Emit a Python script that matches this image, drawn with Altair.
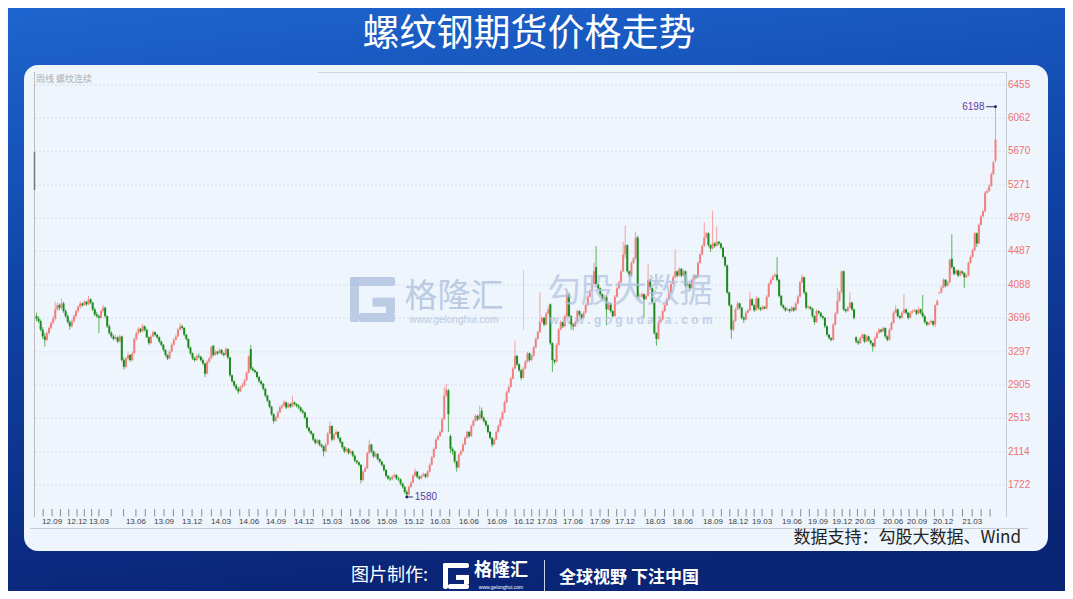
import altair as alt
import pandas as pd

# ---------------- data (weekly candles: open, high, low, close) ----------------
candles_2012_2014 = [
    (3720, 3760, 3660, 3690), (3690, 3720, 3640, 3660), (3660, 3680, 3540, 3560), (3560, 3590, 3450, 3480),
    (3480, 3520, 3360, 3440), (3440, 3540, 3420, 3520), (3520, 3600, 3500, 3580), (3580, 3660, 3560, 3640),
    (3640, 3720, 3620, 3690), (3690, 3890, 3670, 3800), (3800, 3880, 3780, 3850), (3850, 3870, 3790, 3820),
    (3820, 3930, 3800, 3870), (3870, 3890, 3760, 3780), (3780, 3800, 3700, 3720), (3720, 3740, 3630, 3650),
    (3650, 3670, 3560, 3600), (3600, 3680, 3580, 3660), (3660, 3740, 3640, 3720), (3720, 3800, 3700, 3780),
    (3780, 3850, 3760, 3830), (3830, 3890, 3810, 3870), (3870, 3880, 3830, 3850), (3850, 3910, 3840, 3890),
    (3890, 3900, 3840, 3860), (3860, 3960, 3850, 3920), (3920, 3930, 3860, 3880), (3880, 3890, 3780, 3800),
    (3800, 3820, 3720, 3740), (3740, 3770, 3700, 3720), (3720, 3740, 3520, 3700), (3700, 3800, 3690, 3780),
    (3780, 3850, 3760, 3820), (3820, 3830, 3700, 3720), (3720, 3730, 3580, 3600), (3600, 3620, 3500, 3520),
    (3520, 3540, 3460, 3480), (3480, 3500, 3430, 3450), (3450, 3500, 3440, 3470), (3470, 3480, 3400, 3420),
    (3420, 3500, 3410, 3480), (3480, 3490, 3180, 3200), (3200, 3230, 3090, 3120), (3120, 3240, 3100, 3220),
    (3220, 3290, 3200, 3260), (3260, 3270, 3180, 3200), (3200, 3300, 3180, 3280), (3280, 3470, 3270, 3450),
    (3450, 3540, 3430, 3520), (3520, 3590, 3500, 3570), (3570, 3580, 3520, 3540), (3540, 3630, 3530, 3600),
    (3600, 3610, 3540, 3560), (3560, 3570, 3460, 3470), (3470, 3480, 3380, 3400), (3400, 3500, 3390, 3480),
    (3480, 3550, 3470, 3530), (3530, 3540, 3480, 3500), (3500, 3510, 3450, 3470), (3470, 3480, 3400, 3420),
    (3420, 3430, 3360, 3380), (3380, 3390, 3300, 3320), (3320, 3330, 3240, 3260), (3260, 3270, 3200, 3220),
    (3220, 3320, 3210, 3300), (3300, 3400, 3290, 3380), (3380, 3460, 3370, 3440), (3440, 3500, 3430, 3480),
    (3480, 3580, 3470, 3560), (3560, 3640, 3550, 3600), (3600, 3620, 3560, 3580), (3580, 3590, 3480, 3500),
    (3500, 3510, 3430, 3450), (3450, 3460, 3330, 3350), (3350, 3360, 3260, 3280), (3280, 3290, 3200, 3220),
    (3220, 3240, 3180, 3200), (3200, 3270, 3190, 3250), (3250, 3280, 3220, 3240), (3240, 3250, 3180, 3200),
    (3200, 3220, 3140, 3160), (3160, 3170, 3000, 3040), (3040, 3200, 3030, 3180), (3180, 3240, 3160, 3220),
    (3220, 3370, 3210, 3350), (3370, 3380, 3240, 3260), (3260, 3320, 3250, 3300), (3300, 3310, 3260, 3280),
    (3280, 3340, 3270, 3320), (3320, 3330, 3260, 3280), (3280, 3290, 3240, 3260), (3260, 3350, 3250, 3330),
    (3330, 3340, 3210, 3230), (3230, 3240, 3000, 3020), (3020, 3030, 2930, 2950), (2950, 2960, 2880, 2900),
    (2900, 2920, 2840, 2860), (2860, 2880, 2800, 2830), (2830, 2900, 2820, 2880), (2880, 2930, 2870, 2900),
    (2900, 2980, 2890, 2960), (2960, 3070, 2950, 3050), (3050, 3260, 3040, 3240), (3330, 3380, 3080, 3100),
    (3100, 3120, 3060, 3080), (3080, 3090, 3040, 3060), (3060, 3070, 2980, 3000), (3000, 3010, 2930, 2950),
]
candles_2014_2016 = [
    (2950, 2960, 2900, 2920), (2920, 2930, 2840, 2860), (2860, 2870, 2760, 2780), (2780, 2790, 2700, 2720),
    (2720, 2730, 2630, 2650), (2650, 2660, 2540, 2560), (2560, 2570, 2450, 2480), (2480, 2540, 2470, 2520),
    (2520, 2600, 2510, 2580), (2580, 2660, 2570, 2640), (2640, 2680, 2620, 2660), (2660, 2730, 2650, 2700),
    (2700, 2710, 2620, 2640), (2640, 2700, 2630, 2680), (2680, 2690, 2630, 2650), (2650, 2780, 2640, 2700),
    (2700, 2710, 2660, 2680), (2680, 2690, 2640, 2660), (2660, 2680, 2620, 2640), (2640, 2650, 2580, 2600),
    (2600, 2620, 2560, 2580), (2580, 2590, 2500, 2520), (2520, 2530, 2380, 2400), (2400, 2410, 2340, 2360),
    (2360, 2370, 2310, 2330), (2330, 2340, 2240, 2260), (2260, 2270, 2200, 2220), (2220, 2270, 2210, 2250),
    (2250, 2260, 2180, 2200), (2200, 2210, 2160, 2180), (2180, 2190, 2060, 2120), (2120, 2220, 2110, 2200),
    (2200, 2350, 2190, 2330), (2330, 2470, 2320, 2420), (2420, 2430, 2240, 2260), (2260, 2340, 2250, 2320),
    (2320, 2380, 2310, 2350), (2350, 2360, 2260, 2280), (2280, 2290, 2210, 2230), (2230, 2240, 2150, 2170),
    (2170, 2180, 2100, 2120), (2120, 2170, 2110, 2150), (2150, 2160, 2080, 2100), (2100, 2140, 2090, 2120),
    (2120, 2130, 2050, 2070), (2070, 2080, 1990, 2010), (2010, 2020, 1970, 1990), (1990, 2000, 1940, 1960),
    (1960, 1970, 1740, 1780), (1780, 1900, 1770, 1880), (1880, 1940, 1870, 1920), (1920, 2120, 1910, 2100),
    (2100, 2260, 2090, 2200), (2200, 2210, 2100, 2120), (2120, 2130, 2040, 2060), (2060, 2110, 2050, 2090),
    (2090, 2100, 2010, 2030), (2030, 2040, 1980, 2000), (2000, 2010, 1940, 1960), (1960, 1970, 1880, 1900),
    (1900, 1910, 1810, 1830), (1830, 1840, 1780, 1800), (1800, 1820, 1770, 1790), (1790, 1840, 1780, 1820),
    (1820, 1860, 1810, 1840), (1840, 1850, 1780, 1800), (1800, 1820, 1770, 1790), (1790, 1800, 1720, 1740),
    (1740, 1750, 1680, 1700), (1700, 1710, 1620, 1640), (1640, 1660, 1580, 1610), (1610, 1720, 1600, 1700),
    (1700, 1770, 1690, 1750), (1750, 1850, 1740, 1830), (1830, 1920, 1820, 1880), (1880, 1890, 1800, 1820),
    (1820, 1830, 1780, 1800), (1800, 1850, 1790, 1830), (1830, 1870, 1820, 1850), (1850, 1860, 1800, 1820),
    (1820, 1900, 1810, 1880), (1880, 1980, 1870, 1960), (1960, 2070, 1950, 2050), (2050, 2170, 2040, 2150),
    (2150, 2280, 2140, 2260), (2260, 2320, 2250, 2300), (2300, 2370, 2290, 2350), (2350, 2520, 2340, 2500),
    (2500, 2880, 2490, 2780), (2780, 2917, 2760, 2850), (2840, 2860, 2350, 2560), (2300, 2320, 2100, 2150),
    (2150, 2170, 2080, 2120), (2120, 2130, 1980, 2000), (2000, 2010, 1880, 1930), (1930, 2100, 1920, 2080),
    (2080, 2140, 2070, 2120), (2120, 2220, 2110, 2200), (2200, 2300, 2190, 2280), (2280, 2370, 2270, 2350),
    (2350, 2360, 2280, 2300), (2300, 2440, 2290, 2420), (2420, 2500, 2410, 2480), (2480, 2560, 2470, 2540),
    (2540, 2550, 2480, 2500), (2500, 2660, 2490, 2560),
]
candles_2016_2019 = [
    (2600, 2640, 2500, 2520), (2520, 2530, 2460, 2480), (2480, 2490, 2410, 2430), (2430, 2440, 2330, 2350),
    (2350, 2360, 2260, 2280), (2280, 2290, 2170, 2200), (2200, 2280, 2190, 2260), (2260, 2370, 2250, 2350),
    (2350, 2440, 2340, 2420), (2420, 2520, 2410, 2500), (2500, 2600, 2490, 2580), (2580, 2720, 2570, 2700),
    (2700, 2840, 2690, 2820), (2820, 2900, 2810, 2880), (2880, 3000, 2870, 2980), (2980, 3120, 2970, 3100),
    (3100, 3430, 3090, 3250), (3250, 3260, 3130, 3150), (3150, 3160, 3060, 3080), (3080, 3090, 2960, 2990),
    (2990, 3120, 2980, 3100), (3100, 3200, 3090, 3180), (3180, 3300, 3170, 3280), (3280, 3290, 3180, 3200),
    (3200, 3270, 3190, 3250), (3250, 3370, 3240, 3350), (3350, 3470, 3340, 3450), (3450, 3550, 3440, 3530),
    (3530, 4000, 3520, 3650), (3650, 3720, 3640, 3700), (3700, 3710, 3600, 3620), (3620, 3770, 3610, 3750),
    (3750, 3840, 3740, 3800), (3860, 3870, 3380, 3400), (3400, 3410, 3060, 3200), (3200, 3210, 3150, 3180),
    (3180, 3400, 3170, 3380), (3380, 3580, 3370, 3560), (3560, 3670, 3550, 3650), (3650, 3660, 3580, 3600),
    (3600, 3740, 3590, 3720), (3720, 4020, 3700, 3980), (3980, 3990, 3700, 3720), (3720, 3730, 3560, 3620),
    (3620, 3640, 3550, 3600), (3600, 3670, 3590, 3650), (3650, 3800, 3640, 3780), (3780, 3790, 3720, 3740),
    (3740, 3750, 3680, 3700), (3700, 3780, 3690, 3760), (3760, 3870, 3750, 3850), (3850, 3970, 3840, 3950),
    (3950, 4040, 3940, 4020), (4020, 4200, 4010, 4100), (4100, 4350, 4090, 4250), (4300, 4550, 4080, 4100),
    (4100, 4110, 4030, 4050), (4050, 4060, 3960, 3980), (3980, 3990, 3900, 3920), (3920, 3970, 3910, 3950),
    (3950, 3960, 3610, 3800), (3800, 3890, 3790, 3870), (3870, 3880, 3760, 3780), (3780, 3790, 3700, 3720),
    (3720, 3970, 3710, 3950), (3950, 4070, 3940, 4050), (4050, 4140, 4040, 4120), (4120, 4270, 4110, 4250),
    (4250, 4600, 4240, 4450), (4450, 4790, 4400, 4560), (4560, 4570, 4230, 4250), (4250, 4260, 4180, 4200),
    (4200, 4370, 4190, 4350), (4350, 4420, 4340, 4400), (4400, 4720, 4390, 4650), (4650, 4670, 3930, 3950),
    (3950, 3990, 3900, 3950), (3950, 4000, 3940, 3980), (3980, 3990, 3700, 3920), (3920, 3980, 3910, 3960),
    (3960, 4330, 3950, 4150), (4150, 4160, 4030, 4050), (4050, 4060, 3860, 3880), (3880, 3890, 3500, 3520),
    (3520, 3530, 3370, 3450), (3450, 3670, 3440, 3650), (3650, 3700, 3640, 3680), (3680, 3800, 3670, 3780),
    (3780, 3870, 3770, 3850), (3850, 3940, 3840, 3920), (3920, 4020, 3910, 4000), (4000, 4120, 3990, 4100),
    (4100, 4200, 4090, 4180), (4180, 4510, 4170, 4250), (4250, 4260, 4180, 4200), (4200, 4300, 4190, 4280),
    (4280, 4290, 4180, 4200), (4200, 4270, 4190, 4250), (4250, 4260, 4060, 4080), (4080, 4120, 4070, 4100),
    (4100, 4110, 4030, 4050), (4050, 4170, 4040, 4150), (4150, 4220, 4140, 4200), (4200, 4210, 4160, 4180),
    (4180, 4370, 4170, 4350), (4350, 4470, 4340, 4450), (4450, 4570, 4440, 4550), (4550, 4830, 4540, 4650),
    (4650, 4720, 4640, 4700), (4700, 4710, 4540, 4560), (4560, 4570, 4480, 4520), (4520, 4965, 4510, 4580),
    (4580, 4600, 4530, 4550), (4550, 4780, 4540, 4600), (4600, 4610, 4560, 4580), (4580, 4590, 4510, 4530),
    (4530, 4540, 4400, 4420), (4420, 4430, 4300, 4320), (4320, 4330, 3980, 4000), (4000, 4010, 3830, 3850),
]
candles_2019_2021 = [
    (3850, 3860, 3450, 3560), (3560, 3680, 3540, 3660), (3660, 3820, 3650, 3800), (3800, 3890, 3790, 3870),
    (3870, 3880, 3800, 3820), (3820, 3830, 3680, 3700), (3700, 3720, 3640, 3680), (3680, 3780, 3670, 3760),
    (3760, 3810, 3750, 3790), (3790, 4000, 3780, 3920), (3920, 3930, 3840, 3850), (3850, 3860, 3770, 3790),
    (3790, 3960, 3780, 3930), (3930, 3940, 3800, 3820), (3820, 3830, 3780, 3800), (3800, 3850, 3790, 3830),
    (3830, 3840, 3800, 3810), (3810, 3970, 3800, 3950), (3950, 4120, 3940, 4100), (4100, 4170, 4090, 4150),
    (4150, 4210, 4140, 4190), (4190, 4230, 4180, 4210), (4210, 4420, 4130, 4150), (4150, 4160, 3940, 3960),
    (3960, 3970, 3830, 3850), (3850, 3860, 3800, 3820), (3820, 3830, 3770, 3790), (3790, 3820, 3780, 3800),
    (3800, 3810, 3760, 3780), (3780, 3840, 3770, 3820), (3820, 3830, 3770, 3790), (3790, 3890, 3780, 3870),
    (3870, 3970, 3860, 3950), (3950, 4140, 3940, 4120), (4120, 4220, 4110, 4180), (4180, 4190, 3980, 4000),
    (4000, 4010, 3800, 3820), (3820, 3850, 3810, 3830), (3830, 3840, 3790, 3810), (3810, 3820, 3700, 3720),
    (3720, 3730, 3620, 3650), (3650, 3800, 3640, 3780), (3780, 3790, 3740, 3760), (3760, 3770, 3700, 3720),
    (3720, 3730, 3680, 3700), (3700, 3710, 3580, 3600), (3600, 3610, 3480, 3500), (3500, 3510, 3440, 3460),
    (3460, 3470, 3420, 3440), (3440, 3640, 3430, 3620), (3620, 3770, 3610, 3750), (3750, 4050, 3740, 3900),
    (3900, 4020, 3890, 4000), (4000, 4260, 3990, 4250), (4250, 4260, 3780, 3800), (3800, 3810, 3760, 3780),
    (3780, 3840, 3770, 3820), (3820, 4000, 3810, 3880), (3880, 3890, 3780, 3800), (3800, 3810, 3680, 3700),
    (3470, 3480, 3400, 3420), (3420, 3440, 3380, 3400), (3400, 3480, 3390, 3460), (3460, 3520, 3450, 3500),
    (3500, 3510, 3400, 3420), (3420, 3500, 3410, 3480), (3480, 3490, 3420, 3430), (3430, 3440, 3380, 3400),
    (3400, 3410, 3300, 3360), (3360, 3480, 3350, 3460), (3460, 3540, 3450, 3520), (3520, 3580, 3510, 3560),
    (3560, 3570, 3520, 3540), (3540, 3600, 3530, 3580), (3580, 3590, 3460, 3480), (3480, 3490, 3420, 3440),
    (3440, 3580, 3430, 3560), (3560, 3660, 3550, 3640), (3640, 3780, 3630, 3760), (3760, 3850, 3750, 3800),
    (3800, 3810, 3700, 3720), (3720, 3730, 3680, 3700), (3700, 3780, 3690, 3760), (3760, 3980, 3750, 3800),
    (3800, 3810, 3740, 3760), (3760, 3770, 3680, 3700), (3700, 3780, 3690, 3760), (3760, 3800, 3750, 3780),
    (3780, 3810, 3770, 3790), (3790, 3800, 3730, 3750), (3750, 3830, 3740, 3800), (3800, 3810, 3740, 3760),
    (3760, 3970, 3700, 3720), (3720, 3730, 3630, 3650), (3650, 3660, 3600, 3620), (3620, 3660, 3610, 3640),
    (3640, 3680, 3630, 3660), (3660, 3670, 3600, 3620), (3620, 3860, 3590, 3850), (3850, 3920, 3840, 3900),
    (3990, 4010, 3980, 4000), (4000, 4080, 3990, 4060), (4060, 4170, 4050, 4150), (4150, 4160, 4060, 4080),
    (4080, 4140, 4070, 4120), (4120, 4400, 4110, 4380), (4400, 4690, 4280, 4300), (4300, 4310, 4200, 4220),
    (4220, 4280, 4210, 4260), (4260, 4270, 4180, 4200), (4200, 4270, 4190, 4250), (4250, 4260, 4210, 4230),
    (4230, 4240, 4050, 4180), (4180, 4220, 4170, 4200), (4200, 4370, 4190, 4350), (4350, 4440, 4340, 4420),
    (4420, 4520, 4410, 4500), (4500, 4720, 4490, 4700), (4700, 4710, 4540, 4580), (4580, 4820, 4570, 4800),
    (4800, 4920, 4790, 4900), (4900, 4980, 4890, 4960), (4960, 5200, 4950, 5180), (5180, 5230, 5170, 5200),
    (5200, 5280, 5190, 5260), (5260, 5420, 5250, 5400), (5400, 5560, 5390, 5540), (5560, 6198, 5540, 5810),
]

price_ticks = [1722, 2114, 2513, 2905, 3297, 3696, 4088, 4487, 4879, 5271, 5670, 6062, 6455]
date_labels = ["12.09", "12.12", "13.03", "13.06", "13.09", "13.12", "14.03", "14.06", "14.09", "14.12",
               "15.03", "15.06", "15.09", "15.12", "16.03", "16.06", "16.09", "16.12", "17.03", "17.06",
               "17.09", "17.12", "18.03", "18.06", "18.09", "18.12", "19.03", "19.06", "19.09", "19.12",
               "20.03", "20.06", "20.09", "20.12", "21.03"]
date_label_weeks = [7.5, 19.5, 30, 47.8, 61.3, 74.8, 88.7, 102.2, 115.1, 128.6, 142.1, 155.5, 168.5, 181.5,
                    194, 207.9, 221.4, 234.4, 245.4, 257.9, 270.9, 282.9, 297.4, 310.8, 325.2, 337.3, 348.8,
                    363.2, 375.7, 387.3, 398.3, 411.8, 423.3, 435.8, 449.8]
extreme_labels = ["6198", "1580"]
extreme_weeks = [461, 178]
extreme_prices = [6198, 1580]

# ---------------- geometry ----------------
OX, OY = 8, 8          # page margin
W, H = 1057, 583       # chart size


def px(x):
    return x - OX


def py(y):
    return y - OY


CJK = "Noto Sans CJK SC"
LAT = "Liberation Sans"
RED = "#f08080"
RED_WICK = "#f3a0a0"
GREEN = "#1d8a1d"
GREEN_WICK = "#5fb05f"

all_candles = candles_2012_2014 + candles_2014_2016 + candles_2016_2019 + candles_2019_2021
N = len(all_candles)
rows = []
for k, (o, h, l, c) in enumerate(all_candles):
    rows.append(dict(i=k, o=o, h=h, l=l, c=c, top=max(o, c), bot=min(o, c),
                     dir="up" if c >= o else "down"))
df = pd.DataFrame(rows)
up = df[df.dir == "up"]
dn = df[df.dir == "down"]

x_scale = alt.Scale(domain=[0, N - 1], range=[px(36.5), px(995.5)], zero=False, nice=False, padding=0)
y_scale = alt.Scale(domain=[1722, 6455], range=[py(485), py(85)], zero=False, nice=False)

one = pd.DataFrame({"k": [0]})


def box(x0, y0, x1, y1, **kw):
    return alt.Chart(one).mark_rect(**kw).encode(
        x=alt.value(px(x0)), x2=alt.value(px(x1)), y=alt.value(py(y0)), y2=alt.value(py(y1)))


def seg(x0, y0, x1, y1, **kw):
    return alt.Chart(one).mark_rule(**kw).encode(
        x=alt.value(px(x0)), x2=alt.value(px(x1)), y=alt.value(py(y0)), y2=alt.value(py(y1)))


def label(text, x, y, **kw):
    return alt.Chart(pd.DataFrame({"t": [text]})).mark_text(**kw).encode(
        x=alt.value(px(x)), y=alt.value(py(y)), text="t:N")


def g_logo(x0, y0, s, t, color, opacity=1.0):
    x1, y1 = x0 + s, y0 + s
    ym = y0 + s * 0.46
    xm = x0 + s * 0.5
    kw = dict(color=color, opacity=opacity)
    return [
        box(x0, y0, x1, y0 + t, cornerRadius=2, **kw),
        box(x0, y0, x0 + t, y1, cornerRadius=2, **kw),
        box(x0 + t, y1 - t, x1, y1, cornerRadius=2, **kw),
        box(x1 - t, ym, x1, y1 - t, **kw),
        box(xm, ym, x1 - t, ym + t, **kw),
    ]


layers = []

# background gradient
layers.append(box(0, 0, 1080, 610, fill=alt.Gradient(
    gradient="linear",
    stops=[alt.GradientStop(color="#1e66d0", offset=0),
           alt.GradientStop(color="#1045a8", offset=0.45),
           alt.GradientStop(color="#0a2476", offset=1)],
    x1=0, x2=0.2, y1=0, y2=1)))

# white panel
layers.append(box(24, 65, 1048, 551, fill="#eef5fc", cornerRadius=14))

# title
layers.append(label("螺纹钢期货价格走势", 529, 35, font=CJK, fontSize=37, color="white",
                    align="center", baseline="middle"))

# grid lines
grid_df = pd.DataFrame({"v": price_ticks})
layers.append(alt.Chart(grid_df).mark_rule(color="#d6dee9", strokeDash=[2, 2], strokeWidth=1).encode(
    y=alt.Y("v:Q", scale=y_scale, axis=None), x=alt.value(px(35)), x2=alt.value(px(1006))))

# frame lines
layers.append(seg(34.5, 72, 34.5, 517, color="#bdbdbd", strokeWidth=1))
layers.append(seg(34.5, 152, 34.5, 190, color="#777777", strokeWidth=1.5))
layers.append(seg(1006.5, 72, 1006.5, 517, color="#c8ccd2", strokeWidth=1))
layers.append(seg(318, 72.5, 1006.5, 72.5, color="#d0d4da", strokeWidth=1))
layers.append(seg(30, 528.5, 1028, 528.5, color="#c8ccd2", strokeWidth=1))

# small header text
layers.append(label("周线  螺纹连续", 36, 79, font=CJK, fontSize=9, color="#b0b0b0",
                    align="left", baseline="middle"))

# y tick labels (right side)
layers.append(alt.Chart(grid_df).mark_text(font=LAT, fontSize=10, color="#ee7272", align="left",
                                           baseline="middle").encode(
    y=alt.Y("v:Q", scale=y_scale, axis=None), x=alt.value(px(1008)), text="v:N"))

# x tick marks (monthly) and labels
tick_weeks = [date_label_weeks[0] - 4.3]
for a, b in zip(date_label_weeks[:-1], date_label_weeks[1:]):
    tick_weeks += [a, a + (b - a) / 3, a + 2 * (b - a) / 3]
tick_weeks += [date_label_weeks[-1], date_label_weeks[-1] + 4.3, date_label_weeks[-1] + 8.6]
ticks_df = pd.DataFrame({"w": tick_weeks})
layers.append(alt.Chart(ticks_df).mark_rule(color="#8c8c8c", strokeWidth=1).encode(
    x=alt.X("w:Q", scale=x_scale, axis=None), y=alt.value(py(509)), y2=alt.value(py(516.5))))
lab_df = pd.DataFrame({"w": date_label_weeks, "t": date_labels})
layers.append(alt.Chart(lab_df).mark_text(font=LAT, fontSize=8, color="#404040", align="center",
                                          baseline="middle").encode(
    x=alt.X("w:Q", scale=x_scale, axis=None), y=alt.value(py(522)), text="t:N"))

# candles
for part, body_c, wick_c in [(up, RED, RED_WICK), (dn, GREEN, GREEN_WICK)]:
    layers.append(alt.Chart(part).mark_rule(color=wick_c, strokeWidth=1).encode(
        x=alt.X("i:Q", scale=x_scale, axis=None),
        y=alt.Y("l:Q", scale=y_scale, axis=None), y2="h:Q"))
    layers.append(alt.Chart(part).mark_bar(color=body_c, size=2).encode(
        x=alt.X("i:Q", scale=x_scale, axis=None),
        y=alt.Y("bot:Q", scale=y_scale, axis=None), y2="top:Q"))

# extreme annotations
ext = pd.DataFrame({"t": extreme_labels, "i": extreme_weeks, "p": extreme_prices})
ext["side"] = ["left", "right"]
ext["i_end"] = [w - 4.5 if s == "left" else w + 3 for w, s in zip(ext["i"], ext["side"])]
layers.append(alt.Chart(ext).mark_rule(color="#3a2a6a", strokeWidth=1).encode(
    x=alt.X("i:Q", scale=x_scale, axis=None), x2="i_end:Q",
    y=alt.Y("p:Q", scale=y_scale, axis=None)))
layers.append(alt.Chart(ext).mark_point(filled=True, size=8, color="#2a1a5a", opacity=1).encode(
    x=alt.X("i:Q", scale=x_scale, axis=None), y=alt.Y("p:Q", scale=y_scale, axis=None)))
layers.append(alt.Chart(ext[ext.side == "left"]).mark_text(
    font=LAT, fontSize=10, color="#5b3e9e", align="right", baseline="middle", dx=-11).encode(
    x=alt.X("i:Q", scale=x_scale, axis=None), y=alt.Y("p:Q", scale=y_scale, axis=None), text="t:N"))
layers.append(alt.Chart(ext[ext.side == "right"]).mark_text(
    font=LAT, fontSize=10, color="#5b3e9e", align="left", baseline="middle", dx=8).encode(
    x=alt.X("i:Q", scale=x_scale, axis=None), y=alt.Y("p:Q", scale=y_scale, axis=None), text="t:N"))

# watermark
WM = "#b3c4e0"
layers += g_logo(350, 277, 45, 9, WM, 0.85)
layers.append(label("格隆汇", 454, 297, font=CJK, fontSize=33, color=WM, opacity=0.85,
                    align="center", baseline="middle"))
layers.append(label("www.gelonghui.com", 454, 320, font=LAT, fontSize=10, color=WM, opacity=0.85,
                    align="center", baseline="middle"))
layers.append(seg(523.5, 270, 523.5, 330, color="#c3d1e8", strokeWidth=1))
layers.append(label("勾股大数据", 630, 292, font=CJK, fontSize=33, color=WM, opacity=0.75,
                    align="center", baseline="middle"))
layers.append(label("w w w . g o g u d a t a . c o m", 631, 320, font=LAT, fontSize=12,
                    fontWeight="bold", color=WM, opacity=0.75, align="center", baseline="middle"))

# source
layers.append(label("数据支持：勾股大数据、Wind", 1021, 538, font=CJK, fontSize=17, color="#222222",
                    align="right", baseline="middle"))

# footer
layers.append(label("图片制作:", 351, 576, font=CJK, fontSize=18, color="white",
                    align="left", baseline="middle"))
layers += g_logo(443, 563, 26, 5, "white")
layers.append(label("格隆汇", 501, 571, font=CJK, fontSize=18, fontWeight="bold", color="white",
                    align="center", baseline="middle"))
layers.append(label("www.gelonghui.com", 501, 587, font=LAT, fontSize=5, color="white",
                    align="center", baseline="middle"))
layers.append(seg(544.5, 560, 544.5, 593, color="#c9d3ea", strokeWidth=1))
layers.append(label("全球视野 下注中国", 629, 578, font=CJK, fontSize=17, fontWeight="bold",
                    color="white", align="center", baseline="middle"))

chart = alt.layer(*layers).properties(
    width=W, height=H, autosize=alt.AutoSizeParams(type="none"), padding=0
).configure_view(strokeWidth=0).configure(background="#ffffff")

chart.save("out.html", embed_options={"renderer": "svg", "actions": False})
